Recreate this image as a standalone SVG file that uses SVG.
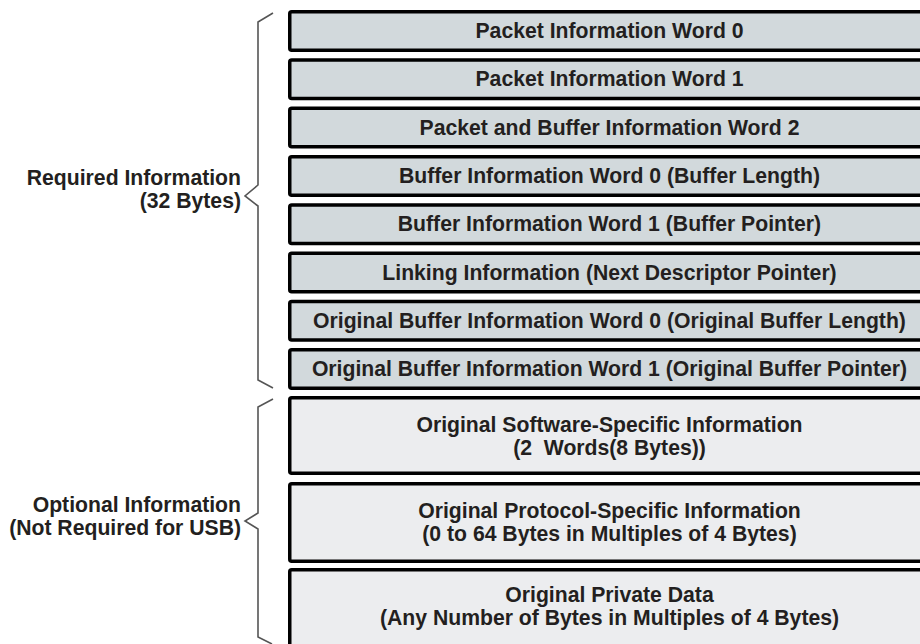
<svg xmlns="http://www.w3.org/2000/svg" width="920" height="644" viewBox="0 0 920 644">
<style>
.req{fill:#d2d9dc;stroke:#000;stroke-width:3.5}
.opt{fill:#ecedef;stroke:#000;stroke-width:3.5}
.t{font-family:"Liberation Sans",Arial,Helvetica,sans-serif;font-weight:bold;font-size:21.2px;fill:#231f20;text-anchor:middle}
.lbl{font-family:"Liberation Sans",Arial,Helvetica,sans-serif;font-weight:bold;font-size:21.2px;fill:#231f20;text-anchor:end}
.brace{fill:none;stroke:#555;stroke-width:1.6;stroke-linejoin:miter}
</style>
<rect width="920" height="644" fill="#fff"/>
<g id="connectors">
<path class="brace" d="M273,13 L258,22 L258,185 L245,196 L258,206 L258,380 L273,388"/>
<path class="brace" d="M273,399 L258,407 L258,513 L245,521 L258,529 L258,637 L272,644"/>
</g>
<g id="label-required">
<text class="lbl" x="241" y="185">Required Information</text>
<text class="lbl" x="241" y="208">(32 Bytes)</text>
</g>
<g id="label-optional">
<text class="lbl" x="241" y="512">Optional Information</text>
<text class="lbl" x="241" y="535">(Not Required for USB)</text>
</g>
<g id="pkt0"><rect class="req" x="289.75" y="11.75" width="660" height="38.5" rx="2"/><text class="t" x="609.5" y="38">Packet Information Word 0</text></g>
<g id="pkt1"><rect class="req" x="289.75" y="60.05" width="660" height="38.5" rx="2"/><text class="t" x="609.5" y="86.3">Packet Information Word 1</text></g>
<g id="pkt2"><rect class="req" x="289.75" y="108.35" width="660" height="38.5" rx="2"/><text class="t" x="609.5" y="134.6">Packet and Buffer Information Word 2</text></g>
<g id="buf0"><rect class="req" x="289.75" y="156.65" width="660" height="38.5" rx="2"/><text class="t" x="609.5" y="182.9">Buffer Information Word 0 (Buffer Length)</text></g>
<g id="buf1"><rect class="req" x="289.75" y="204.95" width="660" height="38.5" rx="2"/><text class="t" x="609.5" y="231.2">Buffer Information Word 1 (Buffer Pointer)</text></g>
<g id="link"><rect class="req" x="289.75" y="253.25" width="660" height="38.5" rx="2"/><text class="t" x="609.5" y="279.5">Linking Information (Next Descriptor Pointer)</text></g>
<g id="obuf0"><rect class="req" x="289.75" y="301.55" width="660" height="38.5" rx="2"/><text class="t" x="609.5" y="327.8">Original Buffer Information Word 0 (Original Buffer Length)</text></g>
<g id="obuf1"><rect class="req" x="289.75" y="349.85" width="660" height="38.5" rx="2"/><text class="t" x="609.5" y="376.1">Original Buffer Information Word 1 (Original Buffer Pointer)</text></g>
<g id="sw"><rect class="opt" x="289.75" y="397.75" width="660" height="75.5" rx="2"/><text class="t" x="609.5" y="432">Original Software-Specific Information</text><text class="t" x="609.5" y="455" style="white-space:pre">(2  Words(8 Bytes))</text></g>
<g id="proto"><rect class="opt" x="289.75" y="483.75" width="660" height="77.5" rx="2"/><text class="t" x="609.5" y="518">Original Protocol-Specific Information</text><text class="t" x="609.5" y="541">(0 to 64 Bytes in Multiples of 4 Bytes)</text></g>
<g id="priv"><rect class="opt" x="289.75" y="569.75" width="660" height="100" rx="2"/><text class="t" x="609.5" y="602">Original Private Data</text><text class="t" x="609.5" y="625">(Any Number of Bytes in Multiples of 4 Bytes)</text></g>
</svg>
